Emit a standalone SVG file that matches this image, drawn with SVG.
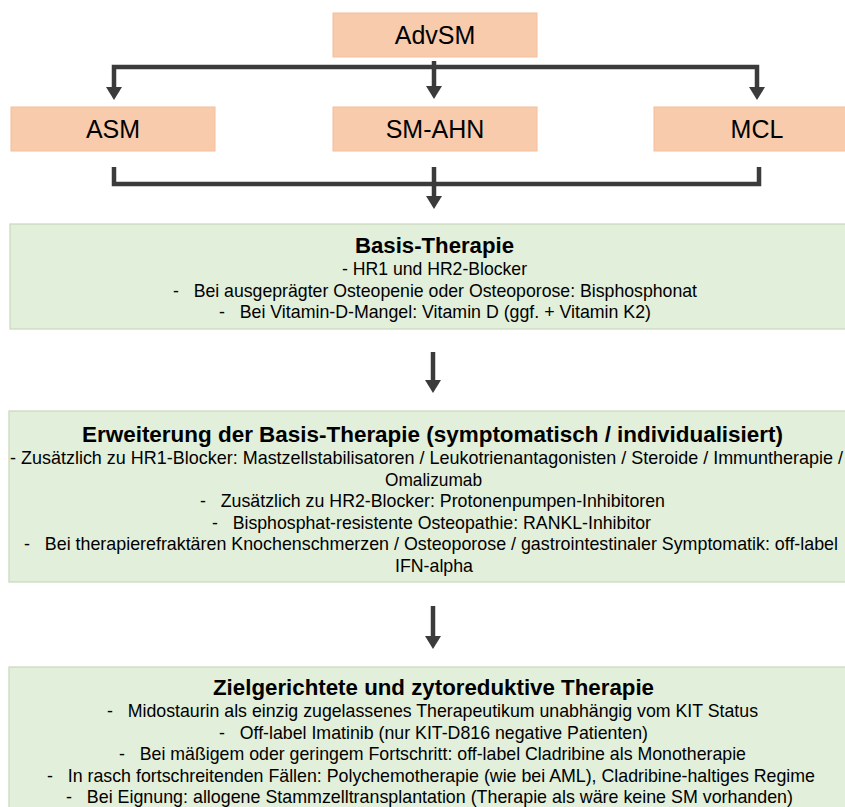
<svg xmlns="http://www.w3.org/2000/svg" width="845" height="807" viewBox="0 0 845 807">
<style>
.bg{fill:#ffffff}
.peach{fill:#F8CBAD;stroke:#F4BE9A;stroke-width:1}
.green{fill:#E2EFDA;stroke:#C8D8BC;stroke-width:1.2}
.t{font-family:"Liberation Sans",Arial,sans-serif;fill:#000;text-anchor:middle}
.top{font-size:25px}
.ttl{font-size:22.5px;font-weight:bold}
.b{font-size:17.7px}
.conn{fill:none;stroke:#3B3B3B;stroke-width:4.5;stroke-linejoin:miter}
</style>
<defs>
<marker id="ah" viewBox="0 0 13 16" refX="0" refY="8" markerWidth="13" markerHeight="16" markerUnits="userSpaceOnUse" orient="auto-start-reverse">
<path d="M0,0 L13,8 L0,16 Z" fill="#3B3B3B"/>
</marker>
</defs>
<rect class="bg" x="0" y="0" width="845" height="807"/>

<g id="connectors">
<path class="conn" d="M434,61 V86" marker-end="url(#ah)"/>
<path class="conn" d="M114,87 V67 H757 V87" marker-start="url(#ah)" marker-end="url(#ah)"/>
<path class="conn" d="M114,167 V184 H759 V167"/>
<path class="conn" d="M434,167 V196" marker-end="url(#ah)"/>
<path class="conn" d="M433,352 V380" marker-end="url(#ah)"/>
<path class="conn" d="M433,606 V636" marker-end="url(#ah)"/>
</g>

<g id="node-advsm">
<rect class="peach" x="333" y="13" width="204" height="44"/>
<text class="t top" x="435" y="44">AdvSM</text>
</g>
<g id="node-asm">
<rect class="peach" x="11" y="107" width="204" height="44"/>
<text class="t top" x="113" y="138">ASM</text>
</g>
<g id="node-smahn">
<rect class="peach" x="333" y="107" width="204" height="44"/>
<text class="t top" x="435" y="138">SM-AHN</text>
</g>
<g id="node-mcl">
<rect class="peach" x="654" y="107" width="200" height="44"/>
<text class="t top" x="757" y="138">MCL</text>
</g>

<g id="node-basis">
<rect class="green" x="10" y="224" width="845" height="105"/>
<text class="t ttl" x="434.5" y="253" textLength="159" lengthAdjust="spacingAndGlyphs">Basis-Therapie</text>
<text class="t b" x="434.5" y="275" textLength="185" lengthAdjust="spacingAndGlyphs">- HR1 und HR2-Blocker</text>
<text class="t b" x="435" y="296.5" textLength="524" lengthAdjust="spacingAndGlyphs">-&#160;&#160;&#160;Bei ausgeprägter Osteopenie oder Osteoporose: Bisphosphonat</text>
<text class="t b" x="435" y="318" textLength="432" lengthAdjust="spacingAndGlyphs">-&#160;&#160;&#160;Bei Vitamin-D-Mangel: Vitamin D (ggf. + Vitamin K2)</text>
</g>

<g id="node-erweiterung">
<rect class="green" x="9" y="411" width="846" height="171"/>
<text class="t ttl" x="432.5" y="442" textLength="701" lengthAdjust="spacingAndGlyphs">Erweiterung der Basis-Therapie (symptomatisch / individualisiert)</text>
<text class="t b" x="426.5" y="464" textLength="833" lengthAdjust="spacingAndGlyphs">- Zusätzlich zu HR1-Blocker: Mastzellstabilisatoren / Leukotrienantagonisten / Steroide / Immuntherapie /</text>
<text class="t b" x="433.5" y="485.5" textLength="97" lengthAdjust="spacingAndGlyphs">Omalizumab</text>
<text class="t b" x="432.5" y="507" textLength="465" lengthAdjust="spacingAndGlyphs">-&#160;&#160;&#160;Zusätzlich zu HR2-Blocker: Protonenpumpen-Inhibitoren</text>
<text class="t b" x="431.5" y="528.5" textLength="439" lengthAdjust="spacingAndGlyphs">-&#160;&#160;&#160;Bisphosphat-resistente Osteopathie: RANKL-Inhibitor</text>
<text class="t b" x="431" y="550" textLength="814" lengthAdjust="spacingAndGlyphs">-&#160;&#160;&#160;Bei therapierefraktären Knochenschmerzen / Osteoporose / gastrointestinaler Symptomatik: off-label</text>
<text class="t b" x="434" y="571.5" textLength="78" lengthAdjust="spacingAndGlyphs">IFN-alpha</text>
</g>

<g id="node-ziel">
<rect class="green" x="9" y="667" width="846" height="160"/>
<text class="t ttl" x="433.5" y="695" textLength="441" lengthAdjust="spacingAndGlyphs">Zielgerichtete und zytoreduktive Therapie</text>
<text class="t b" x="432.5" y="717" textLength="651" lengthAdjust="spacingAndGlyphs">-&#160;&#160;&#160;Midostaurin als einzig zugelassenes Therapeutikum unabhängig vom KIT Status</text>
<text class="t b" x="433.5" y="738.5" textLength="429" lengthAdjust="spacingAndGlyphs">-&#160;&#160;&#160;Off-label Imatinib (nur KIT-D816 negative Patienten)</text>
<text class="t b" x="432.5" y="760" textLength="627" lengthAdjust="spacingAndGlyphs">-&#160;&#160;&#160;Bei mäßigem oder geringem Fortschritt: off-label Cladribine als Monotherapie</text>
<text class="t b" x="431" y="781.5" textLength="768" lengthAdjust="spacingAndGlyphs">-&#160;&#160;&#160;In rasch fortschreitenden Fällen: Polychemotherapie (wie bei AML), Cladribine-haltiges Regime</text>
<text class="t b" x="429.5" y="803" textLength="727" lengthAdjust="spacingAndGlyphs">-&#160;&#160;&#160;Bei Eignung: allogene Stammzelltransplantation (Therapie als wäre keine SM vorhanden)</text>
</g>
</svg>
